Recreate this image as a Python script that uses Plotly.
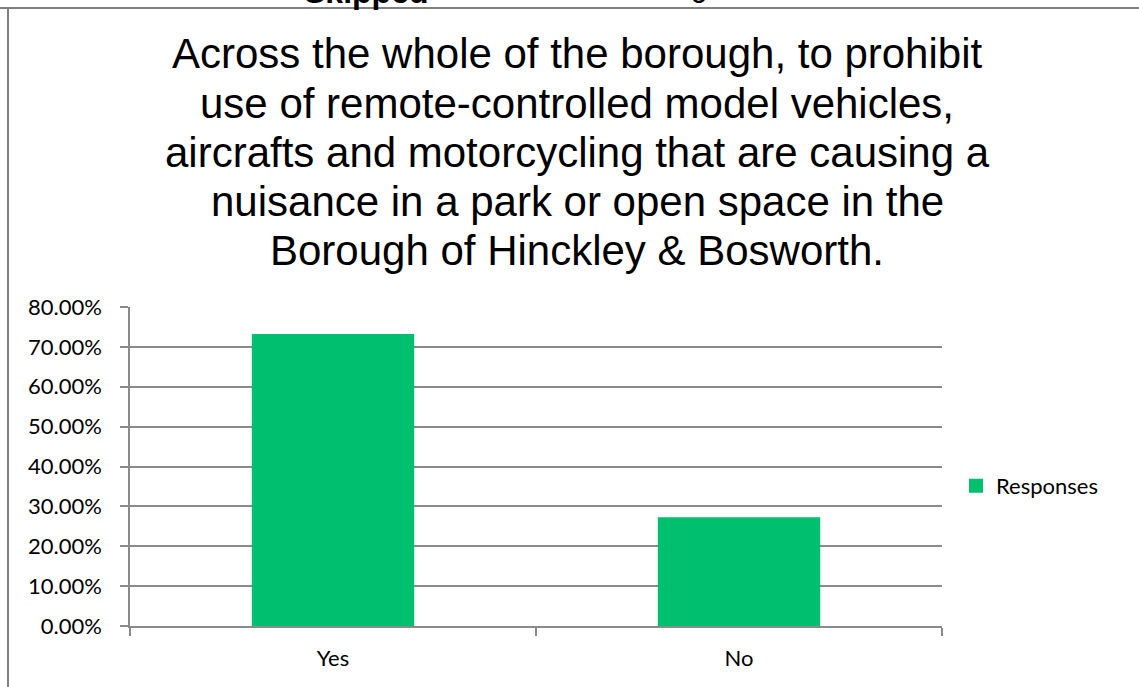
import plotly.graph_objects as go

# ---- data ----
categories = ["Yes", "No"]
responses = [0.7297, 0.2703]
series_name = "Responses"
y_tick_values = [0.0, 0.1, 0.2, 0.3, 0.4, 0.5, 0.6, 0.7, 0.8]
title_lines = [
    "Across the whole of the borough, to prohibit",
    "use of remote-controlled model vehicles,",
    "aircrafts and motorcycling that are causing a",
    "nuisance in a park or open space in the",
    "Borough of Hinckley & Bosworth.",
]
clipped_header = ["Skipped", "0"]

# ---- layout geometry (pixels) ----
W, H = 1139, 687
L, R, T, B = 130, 197, 307, 61
PW = W - L - R
PH = H - T - B


def fx(x):
    return (x - L) / PW


def fy(y):
    return (H - B - y) / PH


GREEN = "#00BF6F"
GRID = "#8A8A8A"
TICKFONT = dict(family="Lato, Calibri, Carlito, sans-serif", size=22, color="#000000")

fig = go.Figure()
fig.add_trace(go.Bar(
    x=categories,
    y=responses,
    name=series_name,
    marker=dict(color=GREEN, line=dict(width=2, color=GREEN)),
    showlegend=True,
))

annotations = []
baselines = [67, 117, 166, 215, 264]
for line, base in zip(title_lines, baselines):
    annotations.append(dict(
        text=line, xref="paper", yref="paper",
        x=fx(577), y=fy(base - 14), xanchor="center", yanchor="middle",
        showarrow=False,
        font=dict(family="Liberation Sans, Arial, sans-serif", size=42, color="#000000"),
    ))
annotations.append(dict(
    text="<b>" + clipped_header[0] + "</b>", xref="paper", yref="paper",
    x=fx(366), y=fy(12), xanchor="center", yanchor="bottom", showarrow=False,
    font=dict(family="Liberation Sans, Arial, sans-serif", size=32, color="#000000"),
))
annotations.append(dict(
    text=clipped_header[1], xref="paper", yref="paper",
    x=fx(699), y=fy(12), xanchor="center", yanchor="bottom", showarrow=False,
    font=dict(family="Liberation Sans, Arial, sans-serif", size=32, color="#000000"),
))

shapes = [
    dict(type="line", xref="paper", yref="paper",
         x0=fx(0), x1=fx(W), y0=fy(8), y1=fy(8),
         line=dict(color="#808080", width=2)),
    dict(type="line", xref="paper", yref="paper",
         x0=fx(8), x1=fx(8), y0=fy(8), y1=fy(H),
         line=dict(color="#808080", width=2)),
]

fig.update_layout(
    width=W, height=H,
    margin=dict(l=L, r=R, t=T, b=B, pad=0),
    paper_bgcolor="white", plot_bgcolor="white",
    bargap=0.605,
    showlegend=True,
    legend=dict(x=fx(956), y=fy(486), xanchor="left", yanchor="middle",
                font=TICKFONT, bgcolor="rgba(0,0,0,0)", borderwidth=0),
    annotations=annotations,
    shapes=shapes,
    xaxis=dict(
        type="category", tickson="boundaries", ticks="outside", ticklen=8,
        tickwidth=1.5, tickcolor=GRID, showline=True, linecolor=GRID, linewidth=1.5,
        showgrid=False, zeroline=False, tickfont=TICKFONT, ticklabelstandoff=12,
    ),
    yaxis=dict(
        range=[0, 0.8], tickvals=y_tick_values, tickformat=".2%",
        ticks="outside", ticklen=8, tickwidth=1.5, tickcolor=GRID,
        showline=True, linecolor=GRID, linewidth=1.5,
        showgrid=True, gridcolor=GRID, gridwidth=1.5, zeroline=False,
        tickfont=TICKFONT, ticklabelstandoff=14,
    ),
)

fig.write_html("out.html", config={"displayModeBar": False},
               post_script="document.body.style.margin='0';")
